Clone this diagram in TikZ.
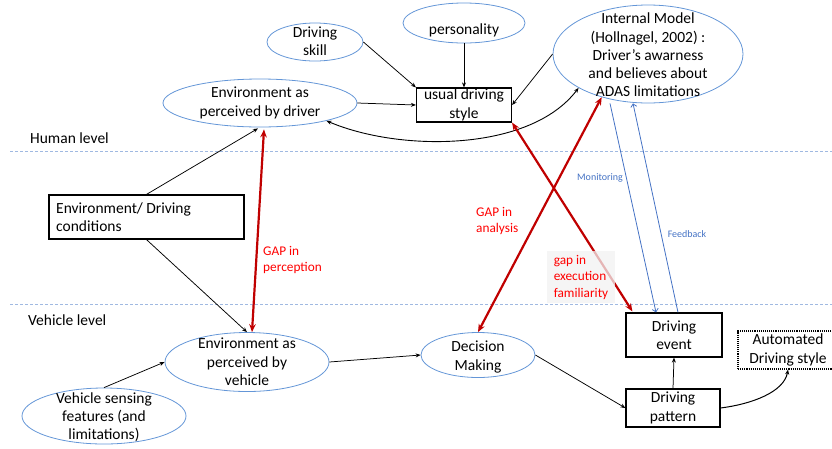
\documentclass[tikz,border=0pt]{standalone}
\usepackage{fontspec}
\setmainfont{Carlito}
\usetikzlibrary{shapes.geometric,arrows.meta}
\definecolor{ellblue}{RGB}{100,150,215}
\definecolor{arrblue}{RGB}{68,114,196}
\definecolor{dkred}{RGB}{192,0,0}
\definecolor{txtred}{RGB}{255,0,0}
\definecolor{dashblue}{RGB}{160,185,225}
\begin{document}
\begin{tikzpicture}[x=1pt,y=-1pt,
 ell/.style={ellipse,draw=ellblue,line width=0.8pt,inner sep=0pt},
 rbox/.style={rectangle,draw=black,line width=1.2pt,inner sep=0pt},
 dotbox/.style={rectangle,draw=black,line width=1.1pt,densely dotted,inner sep=0pt},
 txt/.style={align=center,inner sep=0pt,font=\fontsize{15.5}{18.3}\selectfont},
 redtxt/.style={align=left,inner sep=0pt,text=txtred,font=\fontsize{13.3}{16.5}\selectfont},
 bluetxt/.style={inner sep=0pt,text=arrblue,font=\fontsize{10}{12}\selectfont},
 conn/.style={line width=0.75pt,-{Stealth[length=5pt,width=4pt]}},
 conn2/.style={line width=0.9pt,{Stealth[length=5pt,width=4pt]}-{Stealth[length=5pt,width=4pt]}},
 gap/.style={line width=2.2pt,draw=dkred,{Stealth[length=8pt,width=6.5pt]}-{Stealth[length=8pt,width=6.5pt]}},
 fb/.style={line width=0.8pt,draw=arrblue,-{Straight Barb[length=3pt,width=6pt]}},
 levelline/.style={dash pattern=on 3pt off 2pt, draw=dashblue, line width=0.8pt}]
\useasboundingbox (0,0) rectangle (832,448);

% level separators
\draw[levelline] (10,151) -- (832,151);
\draw[levelline] (10,304) -- (832,304);
\node[txt,anchor=west] (hl) at (30,138) {Human level};
\node[txt,anchor=west] (vl) at (28,320) {Vehicle level};

% shapes
\node[ell,minimum width=96,minimum height=38] (skill) at (315,42) {};
\node[txt] (skillT) at (315,41) {Driving\\skill};
\node[ell,minimum width=122,minimum height=40] (pers) at (464,23) {};
\node[txt] (persT) at (464,30) {personality};
\node[ell,minimum width=190,minimum height=98] (im) at (648,54) {};
\node[txt] (imT) at (648,55) {Internal Model\\(Hollnagel, 2002) :\\Driver’s awarness\\and believes about\\ADAS limitations};
\node[ell,minimum width=194,minimum height=48] (drv) at (260,103) {};
\node[txt] (drvT) at (drv) {Environment as\\perceived by driver};
\node[rbox,minimum width=95,minimum height=34] (usual) at (464,105) {};
\node[txt] (usualT) at (usual) {usual driving\\style};
\node[rbox,minimum width=195,minimum height=44] (cond) at (146.5,217) {};
\node[txt,align=left,anchor=west] (condT) at (56,217) {Environment/ Driving\\conditions};
\node[ell,minimum width=164,minimum height=59] (veh) at (247,362) {};
\node[txt] (vehT) at (veh) {Environment as\\perceived by\\vehicle};
\node[ell,minimum width=164,minimum height=56] (sens) at (104,416) {};
\node[txt] (sensT) at (104,417) {Vehicle sensing\\features (and\\limitations)};
\node[ell,minimum width=114,minimum height=45] (dec) at (478,355) {};
\node[txt] (decT) at (478,357) {Decision\\Making};
\node[rbox,minimum width=96,minimum height=44] (event) at (674,335) {};
\node[txt] (eventT) at (event) {Driving\\event};
\node[rbox,minimum width=94,minimum height=38] (pattern) at (673,408) {};
\node[txt] (patternT) at (pattern) {Driving\\pattern};
\node[dotbox,minimum width=100,minimum height=38] (auto) at (788,350) {};
\node[txt] (autoT) at (auto) {Automated\\Driving style};

% black connectors
\draw[conn] (skill.east) -- (usual.north west);
\draw[conn] (pers.south) -- (usual.north);
\draw[conn] (im.west) -- (usual.east);
\draw[conn] (drv.east) -- (usual.west);
\draw[conn2] (drv.-15) .. controls (400,152) and (530,152) .. (im.-154);
\draw[conn] (cond.north) -- ([xshift=-2pt,yshift=-1pt]drv.south);
\draw[conn] (cond.south) -- (veh.north);
\draw[conn] (veh.east) -- (dec.west);
\draw[conn] (sens.north) -- (veh.west);
\draw[conn] (dec.east) -- (pattern.west);
\draw[conn] (pattern.north) -- (event.south);
\draw[line width=1pt,-{Stealth[length=5pt,width=4pt]}] (pattern.east) .. controls (752,404) and (784,392) .. (auto.south);

% red gaps
\draw[gap] ([xshift=4pt,yshift=-2pt]drv.south) -- ([xshift=5pt]veh.north);
\draw[gap] (im.-137) -- (dec.north);
\draw[gap] (usual.south east) -- ([xshift=7pt,yshift=1pt]event.north west);

% blue monitoring / feedback
\draw[fb] ([xshift=-38pt]im.south) -- ([xshift=-18pt]event.north);
\draw[fb] ([xshift=4pt]event.north) -- ([xshift=-15pt]im.south);

% labels
\node[redtxt,anchor=west] (gp) at (263,260) {GAP in\\perception};
\node[redtxt,anchor=west] (ga) at (476,221) {GAP in\\analysis};
\node[redtxt,fill=gray!10,fill opacity=0.75,text opacity=1,inner xsep=7pt,inner ysep=4pt] (ge) at (581,277) {gap in\\execution\\familiarity};
\node[bluetxt] (mon) at (600,178) {Monitoring};
\node[bluetxt] (fbk) at (687,234) {Feedback};
\end{tikzpicture}
\end{document}
